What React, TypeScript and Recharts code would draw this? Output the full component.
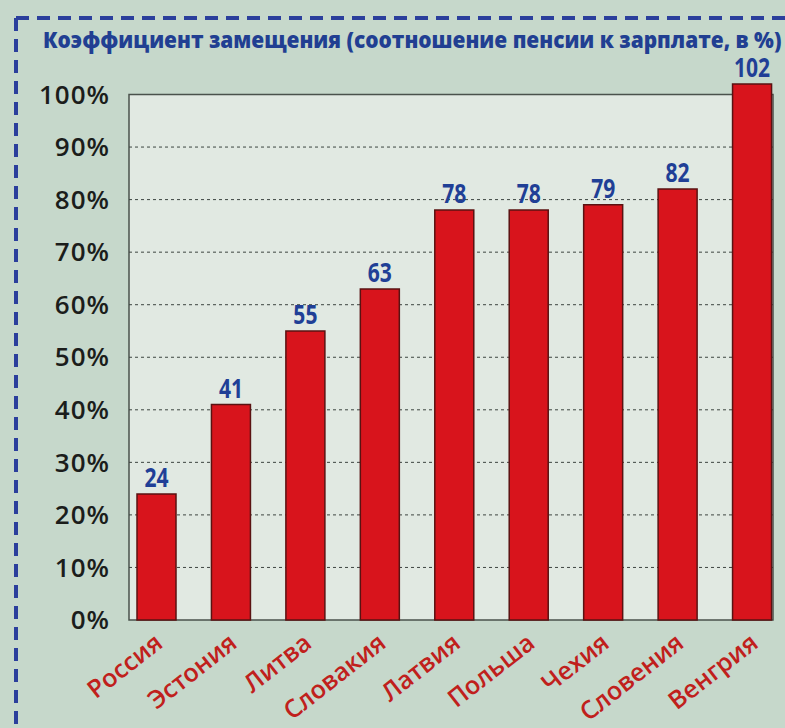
import React from 'react';
import { BarChart, Bar, XAxis, YAxis, CartesianGrid, ReferenceArea, LabelList } from 'recharts';

const categories = ['Россия', 'Эстония', 'Литва', 'Словакия', 'Латвия', 'Польша', 'Чехия', 'Словения', 'Венгрия'];
const values = [24, 41, 55, 63, 78, 78, 79, 82, 102];
const yTicks = [0, 10, 20, 30, 40, 50, 60, 70, 80, 90, 100];
const title = 'Коэффициент замещения (соотношение пенсии к зарплате, в %)';

const data = categories.map((name, i) => ({ name, value: values[i] }));
const innerGrid = yTicks.slice(1, -1);

const sans = '"Open Sans", sans-serif';

const XTick = (props: any) => {
  const { x, y, payload } = props;
  return (
    <g transform={`translate(${x + 8},${y + 26})`}>
      <text transform="rotate(-38)" textAnchor="end" fill="#c0201c" fontSize={25} fontWeight={600} fontFamily={sans}>
        {payload.value}
      </text>
    </g>
  );
};

const ValueLabel = (props: any) => {
  const { x, y, width, value } = props;
  const cx = Number(x) + Number(width) / 2;
  const cy = Number(y) - 7;
  return (
    <g transform={`translate(${cx},${cy}) scale(0.78,1)`}>
      <text x={0} y={0} textAnchor="middle" fill="#203f96" fontSize={27} fontWeight={700} fontFamily={sans}>
        {value}
      </text>
    </g>
  );
};

export default function App() {
  return (
    <div style={{ position: 'absolute', left: 0, top: 0, width: 785, height: 728, background: '#c6d8cb', overflow: 'hidden' }}>
      <svg width={785} height={728} style={{ position: 'absolute', left: 0, top: 0 }}>
        <line x1={16} y1={18} x2={785} y2={18} stroke="#2b3f9c" strokeWidth={4} strokeDasharray="13 8" />
        <line x1={16} y1={18} x2={16} y2={728} stroke="#2b3f9c" strokeWidth={4} strokeDasharray="13 8" />
        <g transform="translate(43,48) scale(0.8,1)">
          <text x={0} y={0} fontFamily={sans} fontWeight={800} fontSize={22} fill="#213f92" textLength={923} lengthAdjust="spacingAndGlyphs">
            {title}
          </text>
        </g>
      </svg>
      <div style={{ position: 'absolute', left: 0, top: 0 }}>
        <BarChart width={785} height={728} data={data} margin={{ top: 84, right: 12, bottom: 78, left: 0 }}>
          <ReferenceArea
            xAxisId="box"
            x1={0}
            x2={1}
            y1={0}
            y2={100}
            fill="#e1e9e2"
            fillOpacity={1}
            stroke="#4a524c"
            strokeWidth={1.5}
            zIndex={-200}
            ifOverflow="visible"
          />
          <CartesianGrid vertical={false} horizontalValues={innerGrid} stroke="#3d4540" strokeDasharray="3 3" />
          <XAxis xAxisId="box" type="number" dataKey={() => 0} domain={[0, 1]} allowDataOverflow hide />
          <XAxis
            dataKey="name"
            height={30}
            axisLine={false}
            tickLine={false}
            tickSize={0}
            tickMargin={0}
            padding={{ left: -10, right: -16 }}
            interval={0}
            tick={<XTick />}
          />
          <YAxis
            width={129}
            domain={[0, 102]}
            ticks={yTicks}
            axisLine={false}
            tickLine={false}
            tickSize={0}
            tickMargin={19}
            tickFormatter={(v: number) => `${v}%`}
            tick={{ fill: '#1b1d1b', fontSize: 26, fontWeight: 600, fontFamily: sans, letterSpacing: 1 }}
          />
          <Bar dataKey="value" fill="#d8141c" stroke="#5a1212" strokeWidth={1.5} barSize={39} isAnimationActive={false}>
            <LabelList dataKey="value" content={<ValueLabel />} />
          </Bar>
        </BarChart>
      </div>
    </div>
  );
}
